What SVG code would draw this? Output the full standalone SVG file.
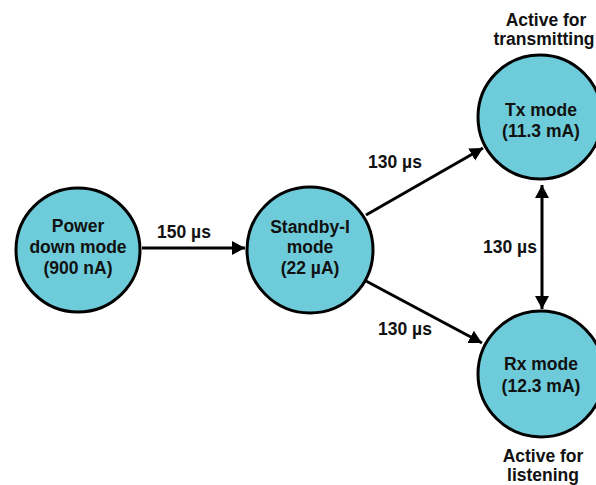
<svg xmlns="http://www.w3.org/2000/svg" width="596" height="485" viewBox="0 0 596 485">
<style>
.node{fill:#6ECCDA;stroke:#000;stroke-width:3}
.t{font-family:"Liberation Sans",Arial,sans-serif;font-weight:bold;font-size:17.5px;text-anchor:middle;fill:#111}
.edge{stroke:#000;stroke-width:3;fill:none}
</style>
<defs>
<marker id="ah" markerUnits="userSpaceOnUse" markerWidth="14" markerHeight="16" refX="13" refY="7" orient="auto-start-reverse" viewBox="0 0 14 14">
<path d="M0,0 L13,7 L0,14 Z" fill="#000"/>
</marker>
</defs>
<rect width="596" height="485" fill="#fff"/>
<g id="connectors">
<line class="edge" x1="142" y1="248" x2="245" y2="248" marker-end="url(#ah)"/>
<line class="edge" x1="366" y1="215" x2="483" y2="148" marker-end="url(#ah)"/>
<line class="edge" x1="366" y1="281" x2="482" y2="343" marker-end="url(#ah)"/>
<line class="edge" x1="542" y1="185" x2="542" y2="309" marker-start="url(#ah)" marker-end="url(#ah)"/>
<text class="t" x="184" y="238">150 µs</text>
<text class="t" x="395" y="168">130 µs</text>
<text class="t" x="405" y="335">130 µs</text>
<text class="t" x="510" y="253">130 µs</text>
</g>
<g id="power-down">
<circle class="node" cx="78" cy="250" r="62"/>
<text class="t" x="78" y="232">Power</text>
<text class="t" x="78" y="253">down mode</text>
<text class="t" x="78" y="274">(900 nA)</text>
</g>
<g id="standby">
<circle class="node" cx="310" cy="250" r="63"/>
<text class="t" x="310" y="233">Standby-I</text>
<text class="t" x="310" y="253">mode</text>
<text class="t" x="310" y="274">(22 µA)</text>
</g>
<g id="tx">
<circle class="node" cx="540" cy="117" r="62"/>
<text class="t" x="541" y="116">Tx mode</text>
<text class="t" x="541" y="137">(11.3 mA)</text>
<text class="t" x="546" y="26">Active for</text>
<text class="t" x="544" y="45">transmitting</text>
</g>
<g id="rx">
<circle class="node" cx="541" cy="374" r="63"/>
<text class="t" x="541" y="370">Rx mode</text>
<text class="t" x="541" y="392">(12.3 mA)</text>
<text class="t" x="543" y="462">Active for</text>
<text class="t" x="543" y="481">listening</text>
</g>
</svg>
